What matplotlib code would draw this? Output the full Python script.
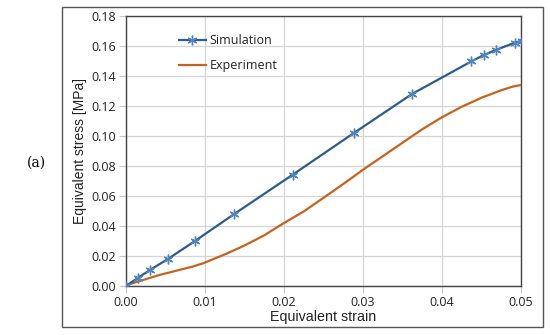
import matplotlib
matplotlib.use('Agg')
import matplotlib.pyplot as plt
import matplotlib.patches as mpatches

# Simulation (marker points)
sim_strain = [0.0, 0.00156, 0.00304, 0.00536, 0.00873, 0.0137, 0.0211, 0.0289,
              0.0362, 0.0437, 0.0453, 0.0468, 0.0492, 0.0501]
sim_stress = [0.0, 0.0056, 0.0107, 0.0182, 0.0300, 0.0480, 0.0742, 0.1022,
              0.1280, 0.1497, 0.1540, 0.1573, 0.1622, 0.1635]

# Experiment curve
exp_strain = [0.0, 0.0042, 0.0084, 0.0097, 0.0127, 0.0150, 0.0175, 0.0200, 0.0225,
              0.0250, 0.0275, 0.0300, 0.0325, 0.0350, 0.0375, 0.0400, 0.0425,
              0.0450, 0.0475, 0.0490, 0.0500]
exp_stress = [0.0005, 0.0073, 0.0129, 0.0150, 0.0215, 0.0270, 0.0338, 0.0420, 0.0497,
              0.0588, 0.0680, 0.0775, 0.0865, 0.0955, 0.1045, 0.1125, 0.1195,
              0.1255, 0.1305, 0.1330, 0.1340]

x_ticks = [0.00, 0.01, 0.02, 0.03, 0.04, 0.05]
y_ticks = [0.00, 0.02, 0.04, 0.06, 0.08, 0.10, 0.12, 0.14, 0.16, 0.18]

BLUE = '#2c5d8c'
MARK = '#4f86bd'
ORANGE = '#c8621c'

fig = plt.figure(figsize=(5.5, 3.35), dpi=100)
ax = fig.add_axes([126 / 550, 1 - 286 / 335, 395 / 550, 270 / 335])

# outer chart frame
fig.patches.append(mpatches.Rectangle((62 / 550, 1 - 327 / 335), 481 / 550, 320 / 335,
                                      transform=fig.transFigure, fill=False,
                                      edgecolor='#555555', linewidth=1.0))

ax.plot(sim_strain, sim_stress, color=BLUE, lw=1.6, marker=(6, 2, 0), ms=7,
        mec=MARK, mew=1.0, label='Simulation', zorder=4)
ax.plot(exp_strain, exp_stress, color=ORANGE, lw=1.6, label='Experiment', zorder=3)

ax.set_xlim(0, 0.05)
ax.set_ylim(0, 0.18)
ax.set_xticks(x_ticks)
ax.set_yticks(y_ticks)
tick_font = {'family': 'Open Sans', 'size': 9, 'weight': 'medium', 'color': '#222222'}
ax.set_xticklabels([f'{v:.2f}' for v in x_ticks], **tick_font)
ax.set_yticklabels([f'{v:.2f}' for v in y_ticks], **tick_font)
ax.tick_params(length=5, color='#c8c8c8', pad=2)
ax.grid(True, color='#d4d4d4', linewidth=0.9)
ax.set_axisbelow(True)
for s in ax.spines.values():
    s.set_color('#444444')
    s.set_linewidth(1.0)

ax.set_xlabel('Equivalent strain', family='Liberation Sans', fontsize=10.3,
              labelpad=1, color='#222222')
ax.set_ylabel('Equivalent stress [MPa]', family='Liberation Sans', fontsize=10,
              labelpad=3, color='#222222')

leg = ax.legend(loc='upper left', bbox_to_anchor=(0.105, 0.975), frameon=False,
                prop={'family': 'Open Sans', 'size': 9, 'weight': 'medium'},
                labelspacing=1.0, handlelength=2.2, handletextpad=0.25)
for t in leg.get_texts():
    t.set_color('#222222')

fig.text(27 / 550, 1 - 163 / 335, '(a)', family='DejaVu Serif', fontsize=10,
         va='center', ha='left')

plt.savefig('out.png', dpi=100)
